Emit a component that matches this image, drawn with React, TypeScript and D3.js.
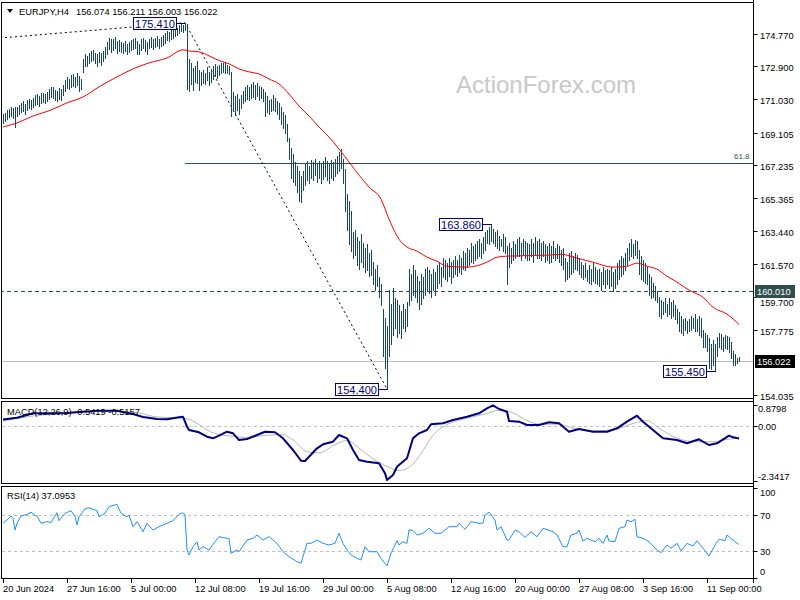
import React from 'react';
import * as d3 from 'd3';

// ---------- data ----------
const barHigh = [
  170.20,170.25,170.40,170.45,170.55, 170.50,170.60,170.55,170.70,170.80,
  170.90,170.75,170.95,171.05,171.00, 171.10,171.25,171.30,171.20,171.35,
  171.40,171.30,171.45,171.60,171.75, 171.70,171.55,171.50,171.65,171.60,
  171.85,172.10,172.30,172.20,172.40, 172.45,172.30,172.50,172.35,172.20,
  173.30,173.60,173.50,173.70,173.80, 173.85,173.70,173.60,173.75,173.65,
  173.80,174.00,174.30,174.55,174.50, 174.45,174.60,174.35,174.40,174.30,
  174.25,174.35,174.20,174.30,174.40, 174.50,174.55,174.35,174.20,174.45,
  174.55,174.40,174.30,174.50,174.60, 174.45,174.55,174.65,174.50,174.60,
  174.70,174.80,174.95,174.85,175.00, 175.05,175.15,175.10,175.25,175.35,
  175.30,175.41,175.35,173.30,173.10, 172.80,172.90,173.20,172.70,172.60,
  172.70,172.55,172.85,172.60,172.75, 172.95,173.05,172.90,173.00,173.10,
  173.10,173.15,173.00,172.95,172.60, 171.45,171.20,171.30,171.05,171.25,
  171.50,171.70,171.85,171.75,171.90, 172.00,171.85,171.95,171.80,171.70,
  171.60,171.45,171.20,170.95,171.05, 171.25,171.10,170.90,170.80,170.60,
  170.30,170.10,169.60,168.80,168.20, 167.90,167.40,167.20,166.90,166.60,
  166.90,167.30,167.50,167.20,167.55, 167.40,167.60,167.35,167.50,167.30,
  167.50,167.70,167.45,167.30,167.55, 167.40,167.60,167.75,168.00,168.15,
  167.60,167.00,165.60,165.20,164.60, 163.40,163.50,163.10,162.90,163.30,
  162.80,162.50,162.70,162.20,162.40, 161.70,161.30,161.50,160.80,160.40,
  159.00,158.50,158.00,160.10,159.30, 160.20,159.60,159.50,159.20,158.90,
  159.30,159.00,159.40,161.30,161.00, 161.50,161.20,160.90,160.60,161.00,
  160.80,161.30,161.40,161.20,161.00, 161.30,161.10,161.50,161.70,161.40,
  161.90,161.80,161.60,161.90,161.70, 161.80,162.00,161.80,162.10,161.90,
  162.30,162.20,162.50,162.40,162.80, 162.60,162.70,162.90,163.00,162.80,
  163.10,163.40,163.50,163.70,163.86, 163.60,163.40,163.50,163.20,163.00,
  163.30,163.10,162.60,162.80,162.50, 162.90,162.70,163.00,163.10,162.80,
  163.00,162.90,162.80,162.70,163.00, 162.80,163.10,162.90,163.00,162.80,
  162.90,162.70,162.60,162.80,162.60, 162.90,162.50,162.70,162.60,162.40,
  162.50,161.90,161.70,162.20,162.30, 162.00,162.20,162.10,161.90,161.70,
  161.50,161.60,161.20,161.50,161.30, 161.60,161.40,161.20,161.30,161.10,
  161.40,161.20,161.30,161.20,161.40, 161.10,161.30,161.60,161.80,162.00,
  161.90,162.20,162.50,162.80,163.00, 162.70,162.95,162.90,162.40,162.00,
  161.80,161.60,161.40,161.00,160.80, 160.50,160.30,160.00,159.70,159.50,
  159.40,159.60,159.30,159.60,159.40, 159.50,159.20,159.00,158.80,158.60,
  158.40,158.50,158.30,158.40,158.60, 158.50,158.70,158.40,158.60,158.50,
  157.80,157.60,157.50,157.30,157.00, 157.20,157.00,157.40,157.60,157.55,
  157.40,157.50,157.45,157.40,157.10, 156.60,156.40,156.20,156.21
];
const barLow = [
  169.65,169.80,169.90,170.00,170.05, 169.95,169.43,170.05,170.15,170.30,
  170.35,170.20,170.40,170.50,170.45, 170.60,170.70,170.75,170.65,170.80,
  170.85,170.80,170.90,171.05,171.15, 171.10,170.95,170.90,171.05,171.00,
  171.25,171.50,171.65,171.60,171.75, 171.80,171.70,171.85,171.50,171.60,
  172.60,172.90,172.95,173.10,173.20, 173.25,173.10,172.95,173.15,173.00,
  173.20,173.40,173.60,173.90,173.75, 173.85,173.95,173.70,173.80,173.75,
  173.70,173.80,173.62,173.75,173.85, 173.90,173.95,173.62,173.60,173.85,
  173.95,173.80,173.62,173.95,174.00, 173.90,174.00,174.10,173.95,174.05,
  174.15,174.25,174.40,174.35,174.50, 174.55,174.65,174.70,174.80,174.95,
  174.90,174.98,171.61,171.50,171.90, 171.55,172.00,171.95,171.55,171.85,
  171.95,171.90,172.10,171.85,172.00, 172.20,172.35,172.25,172.40,172.50,
  172.60,172.55,172.50,172.45,170.06, 170.35,170.10,170.40,170.20,170.50,
  170.80,170.90,171.05,170.95,171.10, 171.15,171.05,171.20,171.00,171.10,
  170.90,170.06,170.30,170.15,170.35, 170.40,170.35,170.20,169.90,169.60,
  169.35,169.10,168.60,167.60,166.50, 166.30,166.10,165.70,165.20,165.10,
  165.80,166.10,166.40,166.20,166.50, 166.40,166.70,166.30,166.50,166.20,
  166.45,166.60,166.40,166.20,166.50, 166.40,166.60,166.80,166.90,167.10,
  166.20,164.60,163.50,162.70,162.30, 161.90,162.10,161.50,161.30,161.70,
  161.40,161.10,161.20,160.90,160.95, 160.40,160.10,160.30,159.70,159.20,
  156.27,155.60,154.40,156.30,157.00, 157.50,157.90,157.40,157.60,157.30,
  157.90,157.70,158.00,159.20,159.50, 159.80,159.70,159.40,159.00,159.30,
  159.60,159.80,160.00,159.90,159.70, 160.10,159.80,160.20,160.50,160.30,
  160.80,160.70,160.60,160.90,160.50, 160.80,161.00,160.90,161.10,161.00,
  161.30,161.20,161.40,161.50,161.70, 161.60,161.80,161.90,162.00,161.90,
  162.20,162.40,162.80,162.70,162.90, 162.80,162.60,162.50,162.40,162.60,
  162.30,162.20,160.40,161.40,161.60, 161.80,161.90,162.00,162.00,161.80,
  162.10,161.90,161.80,161.80,162.00, 161.70,162.10,161.90,161.90,161.80,
  162.00,161.70,161.80,161.60,161.70, 161.90,161.80,161.90,161.70,161.50,
  161.30,160.60,160.70,160.80,161.00, 161.10,161.30,161.20,161.00,160.80,
  160.70,160.80,160.60,160.50,160.40, 160.60,160.50,160.40,160.30,160.10,
  160.40,160.20,160.40,160.20,160.30, 160.01,160.20,160.40,160.70,160.90,
  161.00,161.20,161.50,161.80,162.00, 161.90,162.10,161.90,161.00,160.70,
  160.60,160.50,160.40,159.80,159.60, 159.70,159.50,159.40,158.60,158.50,
  158.70,158.80,158.60,158.70,158.50, 158.60,158.40,158.20,157.70,157.60,
  157.50,157.80,157.60,157.70,157.80, 157.90,157.75,157.70,157.50,157.40,
  156.80,156.80,156.60,155.60,155.55, 155.80,155.45,156.30,156.80,156.70,
  156.60,156.75,156.70,156.50,156.20, 155.80,155.75,155.90,156.00
];

const maBars = [0,7,15,23,32,40,48,57,65,73,82,90,93,98,103,108,113,118,123,128,133,138,143,148,153,158,163,168,173,178,183,189,193,198,202,207,212,217,222,232,238,243,247,252,273,279,287,295,305,312,317,322,327,332,337,343,350,355,362,368];
const maValues = [169.43,169.66,170.06,170.36,170.81,171.15,171.73,172.30,172.76,173.10,173.39,173.85,173.79,173.74,173.51,173.24,173.05,172.76,172.59,172.47,172.18,171.90,171.32,170.63,170.06,169.43,168.85,168.16,167.42,166.67,165.98,165.29,164.14,162.99,162.54,162.31,161.96,161.73,161.44,161.39,161.50,161.73,161.96,162.02,162.08,162.13,161.90,161.67,161.39,161.44,161.62,161.44,161.27,160.87,160.53,160.07,159.66,159.09,158.69,158.11];

const macdBars = [0,7,12,15,23,32,40,48,57,65,70,77,82,88,90,92,93,98,102,105,108,112,115,118,122,127,131,136,140,145,149,151,153,157,160,165,168,172,175,178,182,188,191,192,195,197,198,202,205,208,212,214,220,225,232,238,242,245,248,252,253,258,262,268,273,278,283,288,295,302,307,312,317,320,325,330,337,342,348,353,357,363,365,368];
const macdValues = [0.27,0.34,0.456,0.528,0.528,0.54,0.596,0.638,0.638,0.498,0.371,0.286,0.274,0.358,0.384,-0.04,-0.18,-0.277,-0.464,-0.532,-0.421,-0.252,-0.32,-0.604,-0.561,-0.392,-0.252,-0.277,-0.532,-1.028,-1.481,-1.494,-1.312,-0.956,-0.786,-0.676,-0.392,-0.532,-1.028,-1.452,-1.524,-1.592,-2.016,-2.30,-2.088,-1.736,-1.664,-1.38,-0.532,-0.32,-0.18,0.062,0.104,0.244,0.384,0.528,0.74,0.86,0.71,0.596,0.2,0.172,0.032,0.032,0.147,0.104,-0.252,-0.137,-0.252,-0.252,-0.108,0.172,0.426,0.172,-0.18,-0.532,-0.604,-0.744,-0.574,-0.816,-0.744,-0.421,-0.49,-0.5419];
const signalBars = [0,15,32,48,65,77,88,92,98,105,115,122,132,140,145,152,158,165,172,178,185,192,198,205,210,215,222,232,242,248,255,262,268,278,285,295,305,315,322,328,335,345,355,362,368];
const signalValues = [0.201,0.414,0.54,0.625,0.583,0.371,0.329,0.30,0.05,-0.30,-0.45,-0.50,-0.40,-0.38,-0.60,-1.10,-1.15,-0.85,-0.62,-0.95,-1.40,-1.72,-1.90,-1.62,-1.05,-0.40,0.05,0.32,0.52,0.66,0.55,0.22,0.07,0.06,-0.10,-0.21,-0.18,0.10,0.22,-0.10,-0.45,-0.67,-0.68,-0.58,-0.5157];

const rsiBars = [0,2,4,5,6,7,9,12,14,16,17,19,22,24,27,28,31,34,36,37,38,41,43,47,48,51,53,57,59,62,63,65,67,68,70,72,75,78,82,85,88,90,91,92,93,95,97,98,100,103,106,108,112,113,114,117,118,122,125,127,130,133,137,140,143,147,149,152,154,157,160,163,166,168,170,172,174,177,179,181,183,187,189,192,194,197,198,200,202,203,205,207,210,213,216,219,223,227,228,231,234,238,240,241,243,246,247,249,252,253,256,258,261,264,267,270,275,277,280,282,284,287,288,290,292,296,298,300,302,303,306,308,311,312,314,316,317,320,323,327,329,332,334,337,339,342,345,347,350,353,356,358,361,362,365,368];
const rsiValues = [60.8,64.4,68.9,66.3,53.3,60.8,68.9,70.7,73,70,68.9,60.8,62.6,61.5,72.6,63.7,71.9,74.8,68.1,58.9,68.1,76.7,78.1,74.8,68.1,71.9,79.2,81.9,71.9,68.1,70,57,62.6,58.9,51.4,60.8,53.3,57,60.8,63.7,70.7,72.6,70,31.1,25.6,34.8,40.3,31.1,34.8,31.1,40.3,45.9,44.1,44.1,27.4,31.1,29.2,42.2,44.1,47.8,42.2,45.9,38.5,29.2,23.7,18.1,16.3,38.5,38.5,42.2,38.5,36.7,38.5,49.7,38.5,31.1,25.6,21.9,20,34.8,29.2,29.2,21.9,13.3,27.4,41.4,36.7,40.3,38.5,53.3,52.6,47.8,49.7,55.2,49.7,49.7,57,57,60.8,54.1,62.6,60.8,60.8,70,73,64.4,53.3,57,42.2,42,53.3,51.4,45.2,51.4,45.9,55.2,51.4,47.8,34.8,34.8,47.8,49.7,53.3,41.1,44.1,40.3,44.1,38.5,47.8,41.1,40.3,55.2,57,64.4,62.6,65.2,45.9,44.1,40.3,31.1,28.1,36.7,33,38.5,30.3,38.5,35.6,41.4,33,24.4,36.7,43,41.5,47.8,42.2,37.1];

const priceTicks = [174.770,172.900,171.030,169.105,167.235,165.365,163.440,161.570,159.700,157.775,154.035];
const timeLabelBars = [0,32,64,96,128,160,192,224,256,288,320,352];
const timeLabels = ['20 Jun 2024','27 Jun 16:00','5 Jul 00:00','12 Jul 08:00','19 Jul 16:00','29 Jul 00:00','5 Aug 08:00','12 Aug 16:00','20 Aug 00:00','27 Aug 08:00','3 Sep 16:00','11 Sep 00:00'];
const fibBars = [-1.5, 91, 192];
const fibPrices = [174.53, 175.41, 154.40];
const fib618Price = 167.384;
const levelPrice = 160.01;
const lastPrice = 156.022;
const markBars = [91, 192, 244, 356];
const markPrices = [175.41, 154.40, 163.86, 155.45];
const macdTicks = [0.8798, 0.0, -2.3417];
const macdTickLabels = ['0.8798', '0.00', '-2.3417'];
const rsiTicks = [100, 70, 30, 0];

const FONT = "'Liberation Sans', Arial, sans-serif";
const BAR_COLOR = '#17475f';
const SLATE = '#2f4f4f';

export default function App() {
  const right = 753.5;
  const x = d3.scaleLinear().domain([0, 368]).range([3, 739]);
  const y = d3.scaleLinear().domain([153.826, 176.597]).range([399, 2]);
  const yM = d3.scaleLinear().domain([-2.3417, 0.8798]).range([481, 405]);
  const yR = d3.scaleLinear().domain([0, 100]).range([578, 488]);
  const px = (i: number) => Math.round(x(i)) + 0.5;

  let barPath = '';
  for (let i = 0; i < Math.min(barHigh.length, barLow.length); i++) {
    const yh = Math.round(y(barHigh[i]));
    const yl = Math.round(y(barLow[i])) + 1;
    barPath += `M${px(i)},${yh}V${Math.max(yl, yh + 1)}`;
  }

  const maLine = d3.line<number>().x((_, k) => x(maBars[k])).y((v) => y(v)).curve(d3.curveMonotoneX)(maValues) || '';
  const macdLine = d3.line<number>().x((_, k) => x(macdBars[k])).y((v) => yM(v))(macdValues) || '';
  const sigLine = d3.line<number>().x((_, k) => x(signalBars[k])).y((v) => yM(v)).curve(d3.curveMonotoneX)(signalValues) || '';
  const rsiLine = d3.line<number>().x((_, k) => x(rsiBars[k])).y((v) => yR(v))(rsiValues) || '';
  const fibLine = d3.line<number>().x((_, k) => x(fibBars[k])).y((v) => y(v))(fibPrices) || '';

  const ty = (v: number) => v + 3.4;
  const levelY = Math.round(y(levelPrice));

  return (
    <svg width={800} height={600} style={{ position: 'absolute', left: 0, top: 0, background: '#fff' }} fontFamily={FONT}>
      <defs>
        <clipPath id="cMain"><rect x={2} y={3} width={751} height={395} /></clipPath>
        <clipPath id="cMacd"><rect x={2} y={402} width={751} height={81} /></clipPath>
        <clipPath id="cRsi"><rect x={2} y={487} width={751} height={91} /></clipPath>
      </defs>
      <rect width={800} height={600} fill="#fff" />

      {/* watermark */}
      <text x={456} y={93} fontSize={24} fill="#c8c8c8">ActionForex.com</text>

      <g clipPath="url(#cMain)">
        <line x1={0} x2={right} y1={Math.round(y(lastPrice)) + 0.5} y2={Math.round(y(lastPrice)) + 0.5} stroke="#c0c0c0" />
        <line x1={0} x2={right} y1={levelY + 0.5} y2={levelY + 0.5} stroke={SLATE} strokeDasharray="4,3" />
        <line x1={x(fibBars[1])} x2={right} y1={Math.round(y(fib618Price)) + 0.5} y2={Math.round(y(fib618Price)) + 0.5} stroke={SLATE} />
        <path d={fibLine} fill="none" stroke="#000" strokeDasharray="2,3" />
        <path d={barPath} stroke={BAR_COLOR} strokeWidth={1} fill="none" />
        <path d={maLine} fill="none" stroke="#ff0000" strokeWidth={1} />
      </g>
      <text x={734} y={159} fontSize={8} fill={SLATE}>61.8</text>

      {/* high/low marks */}
      {markBars.map((b, k) => {
        const bx = px(b);
        const by = y(markPrices[k]);
        const boxR = bx - 9;
        return (
          <g key={k}>
            <line x1={boxR} x2={bx} y1={Math.round(by) + 0.5} y2={Math.round(by) + 0.5} stroke="#000080" />
            <rect x={boxR - 43} y={Math.round(by) - 5.5} width={43} height={12} fill="#fff" stroke="#000080" />
            <text x={boxR - 21.5} y={Math.round(by) + 4.5} fontSize={11} fill="#000080" textAnchor="middle">{markPrices[k].toFixed(3)}</text>
          </g>
        );
      })}

      {/* MACD */}
      <line x1={2} x2={right} y1={Math.round(yM(0)) + 0.5} y2={Math.round(yM(0)) + 0.5} stroke="#c0c0c0" strokeDasharray="3,3" />
      <g clipPath="url(#cMacd)">
        <path d={sigLine} fill="none" stroke="#b8b8b8" strokeWidth={1} />
        <path d={macdLine} fill="none" stroke="#000080" strokeWidth={2} strokeLinejoin="round" />
      </g>

      {/* RSI */}
      {[70, 30].map((v) => (
        <line key={v} x1={2} x2={right} y1={Math.round(yR(v)) + 0.5} y2={Math.round(yR(v)) + 0.5} stroke="#c0c0c0" strokeDasharray="3,3" />
      ))}
      <g clipPath="url(#cRsi)">
        <path d={rsiLine} fill="none" stroke="#1e90ff" strokeWidth={1} />
      </g>

      {/* frames */}
      <rect x={1.5} y={2.5} width={right - 1.5} height={396} fill="none" stroke="#000" />
      <rect x={1.5} y={401.5} width={right - 1.5} height={82} fill="none" stroke="#000" />
      <rect x={1.5} y={486.5} width={right - 1.5} height={92} fill="none" stroke="#000" />

      {/* titles */}
      <path d="M7,9L13,9L10,13Z" fill="#000" />
      <text x={19} y={14.5} fontSize={9.3} fill="#000">EURJPY,H4</text>
      <text x={76} y={14.5} fontSize={9.3} fill="#000">156.074 156.211 156.003 156.022</text>
      <text x={7} y={414.5} fontSize={9.3} fill="#000">MACD(12,26,9) -0.5419 -0.5157</text>
      <text x={7} y={499} fontSize={9.3} fill="#000">RSI(14) 37.0953</text>

      {/* price axis */}
      {priceTicks.map((v) => {
        const yy = Math.round(y(v)) + 0.5;
        const nearLevel = Math.abs(yy - levelY) < 10;
        const labelY = nearLevel ? levelY + 12 : yy + 1;
        return (
          <g key={v}>
            <line x1={right} x2={right + 4} y1={yy} y2={yy} stroke="#000" />
            <text x={760} y={ty(labelY)} fontSize={9.3} fill="#000">{v.toFixed(3)}</text>
          </g>
        );
      })}
      <rect x={755} y={levelY - 6} width={40} height={13} fill={SLATE} />
      <text x={757} y={ty(levelY + 0.5)} fontSize={9.3} fill="#fff">{levelPrice.toFixed(3)}</text>
      <rect x={755} y={Math.round(y(lastPrice)) - 6} width={40} height={13} fill="#000" />
      <text x={757} y={ty(Math.round(y(lastPrice)) + 0.5)} fontSize={9.3} fill="#fff">{lastPrice.toFixed(3)}</text>

      {/* MACD axis */}
      {macdTicks.map((v, k) => {
        const yy = Math.round(yM(v)) + 0.5;
        const labelY = k === 0 ? 409 : k === 2 ? 477 : yy;
        return (
          <g key={k}>
            <line x1={right} x2={right + 4} y1={yy} y2={yy} stroke="#000" />
            <text x={758} y={ty(labelY)} fontSize={9.3} fill="#000">{macdTickLabels[k]}</text>
          </g>
        );
      })}

      {/* RSI axis */}
      {rsiTicks.map((v) => {
        const yy = Math.round(yR(v)) + 0.5;
        const labelY = v === 100 ? 493 : v === 0 ? 572 : yy;
        return (
          <g key={v}>
            <line x1={right} x2={right + 4} y1={yy} y2={yy} stroke="#000" />
            <text x={760} y={ty(labelY)} fontSize={9.3} fill="#000">{String(v)}</text>
          </g>
        );
      })}

      {/* right axis line */}
      <line x1={right} x2={right} y1={0} y2={583} stroke="#000" />

      {/* time axis */}
      {timeLabelBars.map((b, k) => {
        const xx = px(b);
        return (
          <g key={k}>
            <line x1={xx} x2={xx} y1={579} y2={583} stroke="#000" />
            <text x={xx - 0.5} y={592} fontSize={9.3} fill="#000">{timeLabels[k]}</text>
          </g>
        );
      })}
    </svg>
  );
}
